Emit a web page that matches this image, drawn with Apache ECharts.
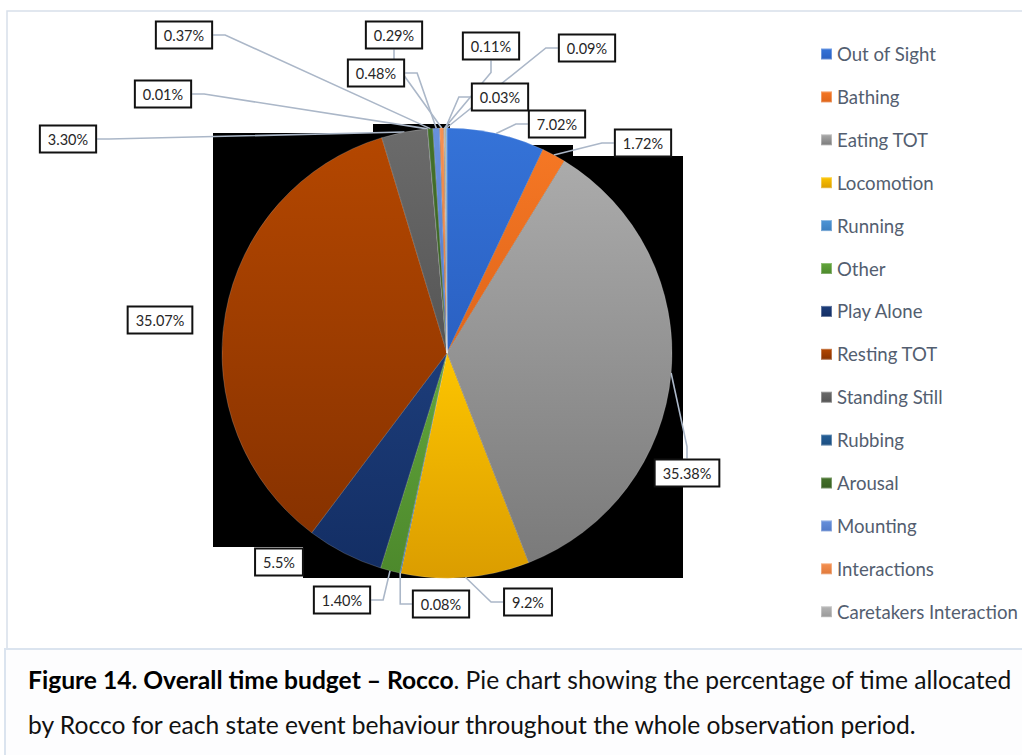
<!DOCTYPE html>
<html>
<head>
<meta charset="utf-8">
<title>Overall time budget – Rocco</title>
<script src="https://cdn.jsdelivr.net/npm/echarts@6/dist/echarts.min.js"></script>
<style>
  html, body { margin: 0; padding: 0; background: #ffffff; }
  #chart { width: 1022px; height: 755px; }
</style>
</head>
<body>
<div id="chart"></div>
<script>
// Behaviour categories, in slice order (clockwise from 12 o'clock)
const behaviours = [
  'Out of Sight', 'Bathing', 'Eating TOT', 'Locomotion', 'Running', 'Other',
  'Play Alone', 'Resting TOT', 'Standing Still', 'Rubbing', 'Arousal',
  'Mounting', 'Interactions', 'Caretakers Interaction', 'Unlisted A', 'Unlisted B'
];
// Share of observation time (%), written as printed on the labels
const shareText = [
  '7.02', '1.72', '35.38', '9.2', '0.08', '1.40',
  '5.5', '35.07', '3.30', '0.01', '0.37',
  '0.48', '0.29', '0.11', '0.03', '0.09'
];
// Legend entries that are listed
const legendNames = behaviours.slice(0, 14);

// Slice fills: lighter top, darker bottom
const sliceTop = [
  '#3573d8', '#f57724', '#ababab', '#fdc500', '#4e95d6', '#62a63c',
  '#1d3d7a', '#b44700', '#6b6b6b', '#245f97', '#45722b',
  '#6891dc', '#f59152', '#b5b5b5', '#ffcd33', '#7cafdd'
];
const sliceBottom = [
  '#2a60c2', '#df651a', '#7a7a7a', '#db9d00', '#3c7fc0', '#4d892c',
  '#132e64', '#873200', '#555555', '#1b4e80', '#375e21',
  '#527ac8', '#e0793a', '#999999', '#e6b41c', '#6697c6'
];

// Label box centres (px) and the labels drawn without a leader line
const labelSpots = [
  [557, 124], [643, 143], [687, 473], [528, 602], [441, 604], [342, 600],
  [279, 562], [160, 320], [68, 139], [163, 94], [184, 35],
  [376, 73], [394, 35], [491, 46], [500, 97], [587, 48]
];
const noLeader = [6, 7];

const FONT = 'Lato, "Open Sans", sans-serif';

// Size a font so a sample string spans a given width
const measureCtx = document.createElement('canvas').getContext('2d');
function fitSize(parts, target) {
  let w = 0;
  parts.forEach(([text, weight]) => {
    measureCtx.font = weight + ' 100px Lato';
    w += measureCtx.measureText(text).width;
  });
  return Math.floor(100 * target / w * 10) / 10;
}
const legendSize = fitSize([['Caretakers Interaction', 'normal']], 181);
const captionBold = 'Figure 14. Overall time budget – Rocco';
const captionRest1 = '. Pie chart showing the percentage of time allocated';
const captionLine2 = 'by Rocco for each state event behaviour throughout the whole observation period.';
const captionSize = fitSize([[captionBold, 'bold'], [captionRest1, 'normal']], 985);

const pieData = behaviours.map((name, i) => ({
  name: name,
  value: parseFloat(shareText[i]),
  itemStyle: {
    color: new echarts.graphic.LinearGradient(0, 0, 0, 1, [
      { offset: 0, color: sliceTop[i] },
      { offset: 1, color: sliceBottom[i] }
    ])
  },
  labelLine: { show: noLeader.indexOf(i) < 0 }
}));

const chart = echarts.init(document.getElementById('chart'), null, { renderer: 'svg' });

chart.setOption({
  backgroundColor: '#ffffff',
  animation: false,
  graphic: [
    // chart area frame
    {
      type: 'rect', z: -20,
      shape: { x: 7, y: 11, width: 1030, height: 638 },
      style: { fill: '#ffffff', stroke: '#d8e0ea', lineWidth: 1.5 }
    },
    // dark backdrop behind the pie
    {
      type: 'polygon', z: -10,
      shape: {
        points: [
          [213, 133], [373, 133], [373, 124], [450, 124], [450, 145],
          [573, 145], [573, 156], [683, 156], [683, 578], [303, 578],
          [303, 547], [213, 547]
        ]
      },
      style: { fill: '#000000' }
    },
    // caption panel
    {
      type: 'rect', z: -20,
      shape: { x: 5, y: 649, width: 1030, height: 120 },
      style: { fill: '#fdfdfe', stroke: '#dbe4ef', lineWidth: 2 }
    },
    {
      type: 'text', z: 5, x: 28, y: 679,
      style: {
        text: '{b|' + captionBold + '}{n|' + captionRest1 + '}',
        verticalAlign: 'middle',
        rich: {
          b: { fontFamily: FONT, fontWeight: 'bold', fontSize: captionSize, fill: '#000000' },
          n: { fontFamily: FONT, fontWeight: 'normal', fontSize: captionSize, fill: '#111111' }
        }
      }
    },
    {
      type: 'text', z: 5, x: 28, y: 724,
      style: {
        text: captionLine2,
        verticalAlign: 'middle',
        fontFamily: FONT, fontSize: captionSize, fill: '#111111'
      }
    }
  ],
  legend: {
    data: legendNames,
    orient: 'vertical',
    left: 820,
    top: 44,
    padding: 0,
    icon: 'rect',
    itemWidth: 11,
    itemHeight: 11,
    itemGap: 22.9,
    selectedMode: false,
    textStyle: {
      fontFamily: FONT,
      fontSize: legendSize,
      lineHeight: 20,
      color: '#535e70'
    }
  },
  series: [{
    type: 'pie',
    center: [447, 353],
    radius: 225,
    startAngle: 90,
    clockwise: true,
    avoidLabelOverlap: false,
    silent: true,
    emphasis: { disabled: true },
    itemStyle: { borderColor: 'rgba(255,255,255,0.3)', borderWidth: 0.6 },
    label: {
      show: true,
      position: 'outside',
      formatter: p => shareText[p.dataIndex] + '%',
      fontFamily: FONT,
      fontSize: 14.5,
      lineHeight: 17,
      color: '#262626',
      backgroundColor: '#ffffff',
      borderColor: '#111111',
      borderWidth: 2,
      padding: [4, 7]
    },
    labelLine: {
      show: true,
      length: 10,
      length2: 12,
      smooth: false,
      lineStyle: { color: '#abb7c8', width: 1.6 }
    },
    labelLayout: p => {
      const s = labelSpots[p.dataIndex];
      return { x: s[0], y: s[1], align: 'center', verticalAlign: 'middle' };
    },
    data: pieData
  }]
});
</script>
</body>
</html>
